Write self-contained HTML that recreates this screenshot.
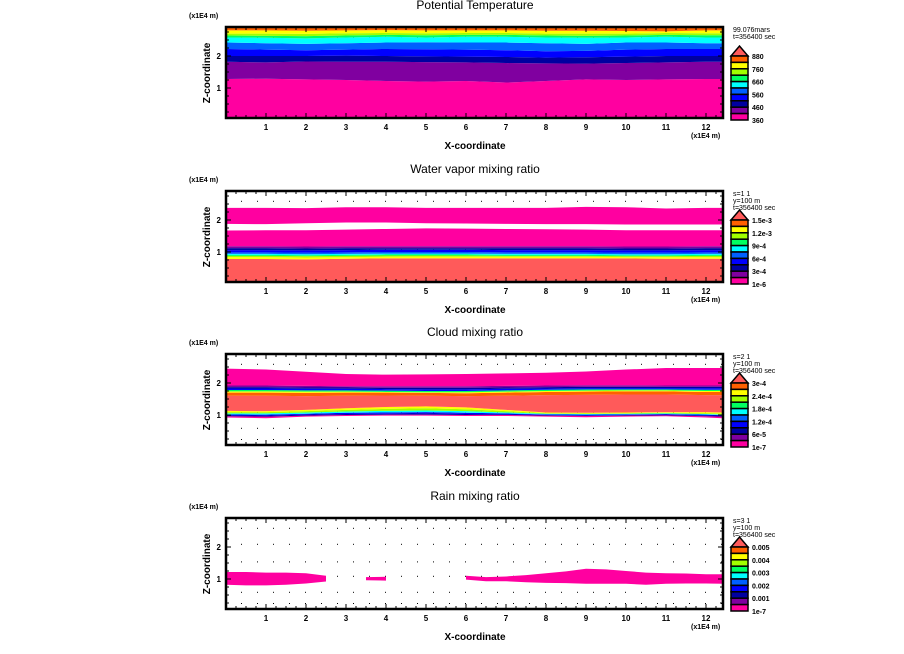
<!DOCTYPE html>
<html><head><meta charset="utf-8"><style>
html,body{margin:0;padding:0;background:#fff;}
svg{display:block;font-family:"Liberation Sans",sans-serif;}
</style></head><body>
<svg id="fig" width="904" height="654" viewBox="0 0 904 654"></svg>
<script>
// ---------- data ----------
const palette = ["#ff00a0","#8000a0","#0000a0","#0000ff","#0060ff","#00ffff","#00ff60","#a0ff00","#ffff00","#ff6000","#ff5a5a"];
const panelTitles = ["Potential Temperature","Water vapor mixing ratio","Cloud mixing ratio","Rain mixing ratio"];
const panelInfo = [["99.076mars","t=356400 sec"],["s=1 1","y=100 m","t=356400 sec"],["s=2 1","y=100 m","t=356400 sec"],["s=3 1","y=100 m","t=356400 sec"]];
const legendLabels = [["880","760","660","560","460","360"],["1.5e-3","1.2e-3","9e-4","6e-4","3e-4","1e-6"],["3e-4","2.4e-4","1.8e-4","1.2e-4","6e-5","1e-7"],["0.005","0.004","0.003","0.002","0.001","1e-7"]];
const xTicks = [1,2,3,4,5,6,7,8,9,10,11,12];
const zTicks = [1,2];
const xs = [0,1,2,3,4,5,6,7,8,9,10,11,12,12.42];

const thetaBounds = [
 [-0.1,-0.1,-0.1,-0.1,-0.1,-0.1,-0.1,-0.1,-0.1,-0.1,-0.1,-0.1,-0.1,-0.1],
 [1.28,1.29,1.27,1.25,1.22,1.20,1.22,1.17,1.22,1.27,1.25,1.27,1.28,1.28],
 [1.82,1.80,1.83,1.82,1.82,1.81,1.80,1.78,1.77,1.76,1.78,1.80,1.82,1.82],
 [2.00,2.00,2.00,2.01,2.00,1.99,1.98,1.97,1.95,1.96,1.98,2.00,2.00,2.00],
 [2.22,2.20,2.18,2.20,2.22,2.21,2.20,2.18,2.15,2.16,2.20,2.22,2.22,2.22],
 [2.42,2.40,2.38,2.40,2.42,2.43,2.42,2.42,2.40,2.38,2.42,2.42,2.40,2.40],
 [2.58,2.57,2.55,2.58,2.60,2.58,2.60,2.60,2.58,2.57,2.58,2.60,2.58,2.58],
 [2.64,2.63,2.62,2.64,2.66,2.65,2.66,2.66,2.64,2.63,2.64,2.66,2.65,2.65],
 [2.70,2.70,2.69,2.71,2.72,2.71,2.72,2.72,2.70,2.70,2.70,2.72,2.71,2.71],
 [2.80,2.80,2.79,2.80,2.81,2.80,2.80,2.80,2.79,2.79,2.78,2.77,2.80,2.80],
 [3.00,3.00,3.00,3.00,3.00,3.00,3.00,3.00,3.00,3.00,3.00,3.00,3.00,3.00]
];
const thetaColors = [0,1,2,3,4,5,6,7,8,9];

const vaporBounds = [
 [-0.1,-0.1,-0.1,-0.1,-0.1,-0.1,-0.1,-0.1,-0.1,-0.1,-0.1,-0.1,-0.1,-0.1],
 [0.78,0.78,0.77,0.79,0.80,0.80,0.80,0.80,0.80,0.80,0.80,0.79,0.79,0.79],
 [0.84,0.84,0.83,0.84,0.85,0.86,0.85,0.85,0.85,0.85,0.84,0.84,0.84,0.84],
 [0.88,0.88,0.87,0.88,0.89,0.89,0.89,0.88,0.88,0.88,0.87,0.87,0.88,0.88],
 [0.91,0.91,0.90,0.91,0.92,0.92,0.92,0.91,0.91,0.91,0.90,0.90,0.91,0.91],
 [0.94,0.94,0.93,0.94,0.95,0.95,0.95,0.94,0.94,0.94,0.93,0.93,0.94,0.94],
 [0.99,0.99,0.98,0.99,1.00,1.00,1.00,0.99,0.99,0.99,0.98,0.98,0.99,0.99],
 [1.06,1.06,1.05,1.06,1.07,1.07,1.07,1.06,1.06,1.06,1.05,1.05,1.06,1.06],
 [1.12,1.12,1.11,1.12,1.12,1.12,1.12,1.12,1.12,1.12,1.11,1.11,1.12,1.12],
 [1.18,1.18,1.17,1.18,1.18,1.18,1.18,1.18,1.18,1.18,1.17,1.17,1.18,1.18],
 [1.67,1.68,1.68,1.70,1.72,1.74,1.73,1.72,1.71,1.70,1.68,1.68,1.68,1.68],
 [1.88,1.87,1.90,1.92,1.92,1.90,1.89,1.88,1.87,1.87,1.86,1.86,1.86,1.86],
 [2.38,2.38,2.37,2.40,2.40,2.38,2.38,2.38,2.38,2.41,2.40,2.36,2.38,2.38]
];
const vaporColors = [10,8,7,6,5,4,3,2,1,0,-1,0];

const cloudBounds = [
 [0.92,0.90,0.95,0.97,0.98,0.98,0.97,0.97,0.95,0.93,0.95,0.96,0.92,0.90],
 [0.96,0.95,0.98,1.00,1.01,1.01,1.00,1.00,0.98,0.97,0.98,0.99,0.96,0.95],
 [0.99,0.98,1.01,1.03,1.04,1.05,1.03,1.02,1.00,0.99,1.00,1.01,0.99,0.98],
 [1.02,1.01,1.04,1.07,1.08,1.09,1.07,1.05,1.02,1.01,1.02,1.03,1.01,1.00],
 [1.05,1.05,1.08,1.11,1.13,1.14,1.12,1.08,1.04,1.03,1.04,1.05,1.03,1.02],
 [1.09,1.09,1.12,1.16,1.19,1.21,1.18,1.12,1.06,1.05,1.06,1.07,1.06,1.05],
 [1.13,1.12,1.16,1.21,1.25,1.27,1.24,1.16,1.08,1.07,1.08,1.09,1.09,1.08],
 [1.60,1.60,1.59,1.60,1.61,1.60,1.59,1.60,1.62,1.63,1.64,1.64,1.62,1.62],
 [1.70,1.70,1.69,1.70,1.70,1.69,1.68,1.70,1.72,1.73,1.74,1.74,1.72,1.72],
 [1.74,1.74,1.73,1.73,1.72,1.71,1.71,1.73,1.75,1.76,1.77,1.77,1.75,1.75],
 [1.78,1.78,1.77,1.77,1.76,1.75,1.75,1.77,1.79,1.80,1.80,1.80,1.79,1.79],
 [1.83,1.83,1.82,1.82,1.81,1.80,1.80,1.82,1.83,1.84,1.84,1.84,1.84,1.84],
 [1.87,1.87,1.86,1.86,1.85,1.85,1.85,1.86,1.87,1.88,1.88,1.88,1.88,1.88],
 [1.92,1.92,1.91,1.90,1.90,1.90,1.90,1.91,1.92,1.93,1.93,1.92,1.92,1.92],
 [2.45,2.42,2.35,2.28,2.26,2.27,2.28,2.30,2.32,2.36,2.42,2.47,2.47,2.47]
];
const cloudColors = [0,2,3,5,7,8,10,9,8,6,3,2,1,0];

const rainXs = [0,0.5,1,1.5,2,2.5,3,3.5,4,4.5,5,5.5,6,6.5,7,7.5,8,8.5,9,9.5,10,10.5,11,11.5,12,12.42];
const rainLower = [0.82,0.80,0.80,0.82,0.86,0.92,null,0.96,0.95,null,null,null,0.98,0.93,0.93,0.90,0.88,0.87,0.85,0.85,0.85,0.82,0.85,0.86,0.86,0.85];
const rainUpper = [1.22,1.22,1.20,1.20,1.18,1.10,null,1.06,1.07,null,null,null,1.10,1.06,1.08,1.12,1.18,1.24,1.32,1.30,1.25,1.20,1.18,1.17,1.15,1.15];

// ---------- layout ----------
const NS = "http://www.w3.org/2000/svg";
const svg = document.getElementById("fig");
const panelTops = [27,191,354,518];
const L = 226, R = 723, BH = 91, XMAX = 12.425, ZPX = 32;
const X = x => L + x * (R - L) / XMAX;
const Z = (z, T) => T + 93 - z * ZPX;
function mk(tag, attrs, parent) {
  const e = document.createElementNS(NS, tag);
  for (const k in attrs) e.setAttribute(k, attrs[k]);
  (parent || svg).appendChild(e);
  return e;
}
function txt(s, attrs, parent) { const t = mk("text", attrs, parent); t.textContent = s; return t; }

function drawBands(g, T, xarr, bounds, colors) {
  const cp = "clip" + T;
  for (let b = 0; b < colors.length; b++) {
    if (colors[b] < 0) continue;
    const lo = bounds[b], hi = bounds[b + 1];
    let pts = [];
    for (let i = 0; i < xarr.length; i++) pts.push(X(xarr[i]) + "," + Z(lo[i], T));
    for (let i = xarr.length - 1; i >= 0; i--) pts.push(X(xarr[i]) + "," + Z(hi[i], T));
    const p = mk("polygon", {points: pts.join(" "), fill: palette[colors[b]], "clip-path": "url(#" + cp + ")"}, g);
    
    
  }
}
function drawRain(g, T) {
  let seg = [];
  const flush = () => {
    if (seg.length > 1) {
      let pts = [];
      seg.forEach(i => pts.push(X(rainXs[i]) + "," + Z(rainLower[i], T)));
      seg.slice().reverse().forEach(i => pts.push(X(rainXs[i]) + "," + Z(rainUpper[i], T)));
      const p = mk("polygon", {points: pts.join(" "), fill: palette[0], "clip-path": "url(#clip" + T + ")"}, g);
      
      
    }
    seg = [];
  };
  for (let i = 0; i < rainXs.length; i++) { if (rainLower[i] === null) flush(); else seg.push(i); }
  flush();
}

const defs = mk("defs", {});
panelTops.forEach((T, pi) => {
  const cl = mk("clipPath", {id: "clip" + T}, defs);
  mk("rect", {x: L, y: T, width: R - L, height: BH}, cl);
  const g = mk("g", {});
  
  

  const dots = mk("g", {fill: "#000"}, g);
  
  
  [0.25, 0.6, 1.1, 1.55, 2.1, 2.6].forEach(z => {
    for (let x = 0.375; x < XMAX; x += 0.4) mk("rect", {x: X(x), y: Z(z, T), width: 1, height: 1}, dots);
  });

  if (pi === 0) drawBands(g, T, xs, thetaBounds, thetaColors);
  if (pi === 1) drawBands(g, T, xs, vaporBounds, vaporColors);
  if (pi === 2) drawBands(g, T, xs, cloudBounds, cloudColors);
  if (pi === 3) drawRain(g, T);

  const fr = mk("rect", {x: L, y: T, width: R - L, height: BH, fill: "none", stroke: "#000", "stroke-width": 2.5}, g);
  
  
  const tk = mk("g", {stroke: "#000", "stroke-width": 1}, g);
  
  
  for (let x = 0.25; x < XMAX; x += 0.25) {
    const major = Math.abs(x - Math.round(x)) < 1e-6;
    const len = major ? 5 : 3;
    mk("line", {x1: X(x), x2: X(x), y1: T + BH, y2: T + BH - len}, tk);
    mk("line", {x1: X(x), x2: X(x), y1: T, y2: T + len}, tk);
  }
  for (let z = 0.25; z < 2.9; z += 0.25) {
    const major = Math.abs(z - Math.round(z)) < 1e-6;
    const len = major ? 5 : 3;
    mk("line", {x1: L, x2: L + len, y1: Z(z, T), y2: Z(z, T)}, tk);
    mk("line", {x1: R, x2: R - len, y1: Z(z, T), y2: Z(z, T)}, tk);
  }
  xTicks.forEach(v => {
    const t = txt(String(v), {x: X(v), y: T + 103, "font-size": 8, "font-weight": "bold", "text-anchor": "middle"}, g);
    
    
  });
  zTicks.forEach(v => {
    const t = txt(String(v), {x: L - 5, y: Z(v, T) + 3, "font-size": 8, "font-weight": "bold", "text-anchor": "end"}, g);
    
    
  });
  const ti = txt(panelTitles[pi], {x: 475, y: T - 18, "font-size": 12, "text-anchor": "middle"}, g);
  
  
  const u1 = txt("(x1E4 m)", {x: 189, y: T - 9, "font-size": 7, "font-weight": "bold"}, g);
  
  
  const u2 = txt("(x1E4 m)", {x: 691, y: T + 111, "font-size": 7, "font-weight": "bold"}, g);
  
  
  const xt = txt("X-coordinate", {x: 475, y: T + 122, "font-size": 10, "font-weight": "bold", "text-anchor": "middle"}, g);
  
  
  const yt = txt("Z-coordinate", {x: 0, y: 0, "font-size": 10, "font-weight": "bold", "text-anchor": "middle", transform: "translate(210," + (T + 46) + ") rotate(-90)"}, g);
  
  

  panelInfo[pi].forEach((s, i) => {
    const t = txt(s, {x: 733, y: T + 5 + i * 7, "font-size": 7}, g);
    
    
  });
  const lg = mk("g", {}, g);
  
  
  const bx = 731, bw = 17, top = T + 29, sh = 6.4;
  const tri = mk("polygon", {points: bx + "," + top + " " + (bx + bw / 2) + "," + (T + 19) + " " + (bx + bw) + "," + top, fill: palette[10], stroke: "#000", "stroke-width": 1.5}, lg);
  
  
  for (let i = 0; i < 10; i++) {
    const r = mk("rect", {x: bx, y: top + i * sh, width: bw, height: sh, fill: palette[9 - i], stroke: "#000", "stroke-width": 1.5}, lg);
    
    
  }
  legendLabels[pi].forEach((s, i) => {
    const t = txt(s, {x: 752, y: top + i * 2 * sh + 3, "font-size": 7, "font-weight": "bold"}, lg);
    
    
  });
});
</script>
</body></html>
